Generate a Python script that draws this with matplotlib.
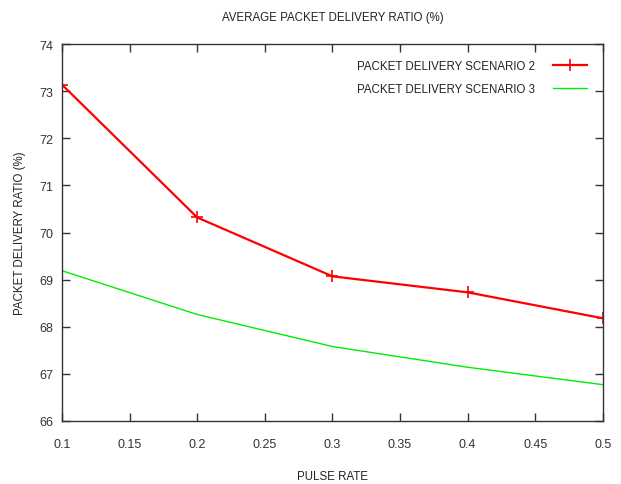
import matplotlib
matplotlib.use("Agg")
import matplotlib.pyplot as plt

pulse_rate = [0.1, 0.2, 0.3, 0.4, 0.5]
scenario2 = [73.14, 70.32, 69.07, 68.73, 68.18]
scenario3 = [69.19, 68.26, 67.58, 67.14, 66.77]
xticks = [0.1, 0.15, 0.2, 0.25, 0.3, 0.35, 0.4, 0.45, 0.5]
xtick_labels = ["0.1", "0.15", "0.2", "0.25", "0.3", "0.35", "0.4", "0.45", "0.5"]
yticks = [66, 67, 68, 69, 70, 71, 72, 73, 74]

plt.rcParams['font.family'] = ['Liberation Sans', 'DejaVu Sans']
fs = 8.3

fig = plt.figure(figsize=(6.21, 4.85), dpi=100)
ax = fig.add_axes([0.0998, 0.130, 0.871, 0.777])

ax.plot(pulse_rate, scenario2, color='#ff0000', lw=1.6, marker='+', ms=8, mew=1.2,
        label='PACKET DELIVERY SCENARIO 2')
ax.plot(pulse_rate, scenario3, color='#00ee00', lw=1.0,
        label='PACKET DELIVERY SCENARIO 3')

ax.set_xlim(0.1, 0.5)
ax.set_ylim(66, 74)
ax.set_xticks(xticks)
ax.set_xticklabels(xtick_labels)
ax.set_yticks(yticks)
ax.tick_params(direction='in', top=True, right=True, length=6, width=1,
               labelsize=9, colors='#333333')
ax.tick_params(axis='x', pad=12.5)
ax.tick_params(axis='y', pad=6.5)
for s in ax.spines.values():
    s.set_color('#333333')
    s.set_linewidth(1)

ax.set_title('AVERAGE PACKET DELIVERY RATIO (%)', fontsize=fs, color='#222222', pad=17)
ax.set_xlabel('PULSE RATE', fontsize=fs, color='#222222', labelpad=14)
ax.set_ylabel('PACKET DELIVERY RATIO (%)', fontsize=fs, color='#222222', labelpad=9)

leg = ax.legend(loc='upper right', frameon=False, markerfirst=False, fontsize=fs,
                handlelength=2.95, handletextpad=1.55, borderaxespad=0.9,
                borderpad=0.5, labelspacing=0.95)
for t in leg.get_texts():
    t.set_color('#222222')

fig.savefig('out.png', dpi=100)
